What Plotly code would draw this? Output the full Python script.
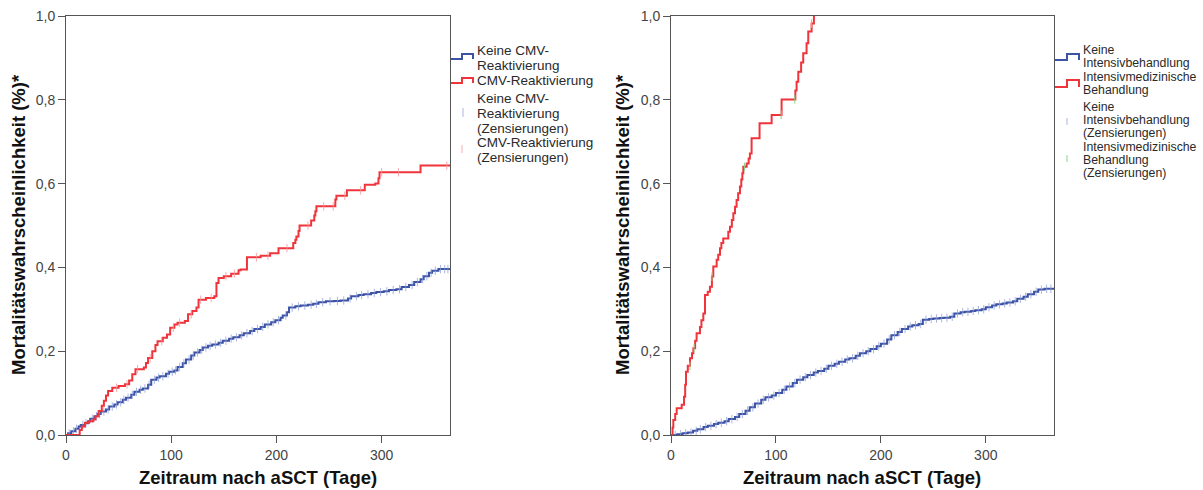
import numpy as np
import plotly.graph_objects as go
from plotly.subplots import make_subplots

# ---------------- Left panel: CMV reactivation ----------------
cmv_no_t = [0, 2, 5, 9, 12, 14, 18, 21, 23, 27, 30, 33, 38, 41, 46, 49, 54, 57, 62, 65,
            70, 73, 78, 81, 86, 89, 95, 98, 103, 106, 111, 114, 119, 122, 127, 130, 135, 139, 145, 149,
            155, 159, 165, 169, 175, 179, 185, 189, 195, 199, 204, 206, 210, 212, 218, 223, 230, 235, 240, 247,
            255, 261, 268, 271, 278, 283, 290, 295, 302, 307, 314, 319, 326, 331, 337, 340, 345, 348, 354, 365]
cmv_no_v = [0, .004, .009, .015, .02, .024, .028, .033, .039, .045, .05, .056, .061, .068, .073, .078, .084, .089, .096, .103,
            .108, .111, .12, .132, .137, .14, .146, .151, .154, .162, .171, .18, .19, .197, .203, .209, .213, .216, .22, .225,
            .23, .233, .238, .243, .248, .253, .258, .264, .269, .274, .28, .285, .293, .304, .307, .309, .311, .313, .317, .319,
            .32, .321, .326, .331, .334, .336, .339, .341, .343, .346, .348, .353, .358, .365, .372, .379, .387, .392, .396, .396]
cmv_yes_t = [0, 13, 15, 18, 22, 26, 28, 31, 34, 36, 38, 40, 44, 50, 56, 60, 63, 66, 74, 76,
             78, 82, 85, 87, 92, 96, 99, 103, 106, 113, 116, 120, 124, 126, 133, 141, 143, 145, 150, 157,
             164, 166, 172, 185, 194, 202, 216, 218, 219, 221, 222, 233, 236, 237, 238, 256, 257, 267, 284, 294,
             297, 298, 337, 365]
cmv_yes_v = [0, .012, .02, .029, .033, .037, .045, .057, .07, .082, .094, .105, .113, .117, .121, .13, .145, .157, .161, .172,
             .184, .2, .215, .224, .232, .24, .256, .264, .268, .272, .288, .296, .304, .323, .327, .331, .363, .375, .379, .385,
             .393, .395, .424, .428, .434, .446, .458, .466, .474, .487, .5, .512, .524, .534, .546, .562, .571, .584, .597, .6,
             .613, .627, .643, .643]
cmv_no_cens = [3, 7, 10, 16, 19, 25, 29, 32, 36, 40, 44, 48, 52, 55, 59, 63, 67, 71, 75, 79, 84, 88, 92, 97, 101,
               104, 108, 112, 117, 121, 125, 129, 133, 137, 142, 147, 152, 157, 162, 167, 172, 177, 182, 187, 192,
               197, 202, 209, 215, 221, 227, 233, 238, 244, 251, 258, 264, 270, 276, 281, 287, 293, 299, 305, 311,
               317, 323, 329, 334, 339, 343, 347, 351, 356, 360, 363]
cmv_yes_cens = [48, 58, 68, 80, 91, 102, 108, 119, 128, 138, 152, 160, 181, 192, 210, 230, 245, 254, 265, 280,
                300, 316, 362]

# ---------------- Right panel: intensive care ----------------
icu_no_t = [0, 6, 11, 16, 21, 25, 31, 35, 41, 45, 51, 55, 61, 65, 71, 75, 80, 86, 90, 96,
            100, 106, 110, 116, 120, 126, 130, 136, 140, 146, 150, 156, 160, 166, 170, 176, 180, 186, 190, 196,
            200, 206, 210, 216, 220, 226, 230, 236, 240, 246, 250, 256, 260, 266, 270, 276, 280, 286, 290, 296,
            300, 306, 310, 316, 320, 326, 330, 336, 340, 346, 350, 356, 365]
icu_no_v = [0, .002, .004, .006, .01, .014, .019, .022, .026, .029, .033, .038, .043, .05, .058, .066, .075, .084, .09, .094,
            .1, .108, .116, .124, .132, .138, .143, .149, .153, .158, .165, .17, .175, .18, .183, .189, .195, .2, .205, .212,
            .218, .228, .238, .246, .253, .259, .262, .265, .275, .277, .278, .279, .28, .282, .29, .293, .294, .296, .298, .3,
            .305, .309, .312, .314, .316, .319, .325, .33, .336, .342, .347, .349, .35]
icu_yes_t = [0, 1.5, 2.2, 4, 5.4, 10.2, 12.4, 13.5, 14.3, 16, 18.1, 20, 21.3, 23, 24.4, 27.6, 29, 30.8, 32.4, 35,
             37.1, 39, 40.3, 43.5, 45, 46.7, 48, 49.8, 54.6, 56.2, 58, 59.4, 61, 62.5, 64, 65.7, 67, 68, 68.9, 72.1,
             74, 75.2, 76.8, 84.4, 95.9, 105.4, 118.5, 119.7, 121.3, 124, 126, 129.2, 130.8, 134, 136.2]
icu_yes_v = [0, .018, .036, .05, .064, .072, .091, .12, .151, .165, .183, .195, .207, .225, .243, .258, .274, .29, .334, .342,
             .354, .378, .402, .418, .43, .446, .458, .469, .485, .497, .513, .529, .545, .561, .577, .593, .61, .625, .64, .648,
             .66, .672, .708, .744, .764, .801, .822, .843, .867, .889, .911, .935, .963, .982, 1.0]
icu_no_cens = [4, 9, 14, 19, 24, 28, 33, 38, 43, 48, 53, 58, 63, 68, 73, 78, 83, 88, 93, 98, 103, 108, 113, 118,
               123, 128, 133, 138, 143, 148, 153, 158, 163, 168, 173, 178, 183, 188, 193, 198, 203, 208, 213, 218,
               223, 228, 233, 238, 243, 248, 253, 258, 263, 268, 273, 278, 283, 288, 293, 298, 303, 308, 313, 318,
               323, 328, 333, 338, 343, 348, 353, 358, 362]
icu_yes_cens = [18, 22, 39, 70, 105, 118, 134]

y_ticks = [0, 0.2, 0.4, 0.6, 0.8, 1.0]
x_ticks = [0, 100, 200, 300]

BLUE = "#3C52A5"
RED = "#EF343B"
BLUE_C = "rgba(140,158,218,0.75)"
RED_C = "rgba(245,150,155,0.8)"
GREEN_C = "#86D48A"
FONT = "Liberation Sans"
W, H = 1203, 490


def at(ts, vs, t):
    """Value of a step curve at time t."""
    i = np.searchsorted(np.asarray(ts), t, side="right") - 1
    return np.asarray(vs)[i]


fig = make_subplots(rows=1, cols=2)


def add_panel(col, curves):
    for ts, vs, color, cens, ccolor in curves:
        fig.add_trace(go.Scatter(x=ts, y=vs, mode="lines", line=dict(color=color, width=2, shape="hv"),
                                 showlegend=False, hoverinfo="skip"), row=1, col=col)
        fig.add_trace(go.Scatter(x=cens, y=[at(ts, vs, c) for c in cens], mode="markers",
                                 marker=dict(symbol="line-ns", size=6, line=dict(width=1, color=ccolor)),
                                 showlegend=False, hoverinfo="skip"), row=1, col=col)


add_panel(1, [(cmv_no_t, cmv_no_v, BLUE, cmv_no_cens, BLUE_C),
              (cmv_yes_t, cmv_yes_v, RED, cmv_yes_cens, RED_C)])
add_panel(2, [(icu_no_t, icu_no_v, BLUE, icu_no_cens, BLUE_C),
              (icu_yes_t, icu_yes_v, RED, icu_yes_cens, GREEN_C)])

axis_common = dict(showline=True, linecolor="#555555", linewidth=1, mirror=True, ticks="outside",
                   ticklen=7, tickcolor="#555555", showgrid=False, zeroline=False, automargin=False,
                   tickfont=dict(family="Liberation Sans Narrow, " + FONT, size=14, color="#444444"))
fig.update_xaxes(range=[0, 365], tickvals=x_ticks, **axis_common)
fig.update_yaxes(range=[0, 1], tickvals=y_ticks, tickformat=".1f", **axis_common)
fig.update_layout(
    xaxis=dict(domain=[66 / W, 450 / W]),
    xaxis2=dict(domain=[671 / W, 1054 / W]),
    yaxis=dict(domain=[1 - 435 / H, 1 - 16 / H]),
    yaxis2=dict(domain=[1 - 435 / H, 1 - 16 / H]),
)

ann = []
shapes = []


def px(x):
    return x / W


def py(y):
    return 1 - y / H


# axis titles
for cx, title_x in [(258, 19), (862, 623)]:
    ann.append(dict(x=px(cx), y=py(477), xref="paper", yref="paper", text="<b>Zeitraum nach aSCT (Tage)</b>",
                    showarrow=False, xanchor="center", yanchor="middle",
                    font=dict(family=FONT, size=18.5, color="#111111")))
    ann.append(dict(x=px(title_x), y=py(225), xref="paper", yref="paper",
                    text="<b>Mortalitätswahrscheinlichkeit (%)*</b>", textangle=-90,
                    showarrow=False, xanchor="center", yanchor="middle",
                    font=dict(family=FONT, size=18.5, color="#111111")))

# legend texts
left_lines = [(50, "Keine CMV-"), (65, "Reaktivierung"), (81, "CMV-Reaktivierung"),
              (99, "Keine CMV-"), (113, "Reaktivierung"), (128, "(Zensierungen)"),
              (143, "CMV-Reaktivierung"), (157, "(Zensierungen)")]
right_lines = [(50, "Keine"), (63, "Intensivbehandlung"), (77, "Intensivmedizinische"), (90, "Behandlung"),
               (107, "Keine"), (120, "Intensivbehandlung"), (133, "(Zensierungen)"),
               (147, "Intensivmedizinische"), (160, "Behandlung"), (173, "(Zensierungen)")]
for y, t in left_lines:
    ann.append(dict(x=px(475), y=py(y), xref="paper", yref="paper", text=t, showarrow=False,
                    xanchor="left", yanchor="middle", font=dict(family=FONT, size=13.5, color="#2a2a2a")))
for y, t in right_lines:
    ann.append(dict(x=px(1081), y=py(y), xref="paper", yref="paper", text=t, showarrow=False,
                    xanchor="left", yanchor="middle", font=dict(family=FONT, size=12.3, color="#2a2a2a")))


def step_icon(x0, x1, x2, ylow, yhigh, color):
    path = (f"M {px(x0)},{py(ylow)} L {px(x1)},{py(ylow)} L {px(x1)},{py(yhigh)} "
            f"L {px(x2)},{py(yhigh)} L {px(x2)},{py(ylow)}")
    shapes.append(dict(type="path", xref="paper", yref="paper", path=path,
                       line=dict(color=color, width=2)))


def tick_icon(x, y0, y1, color):
    shapes.append(dict(type="line", xref="paper", yref="paper", x0=px(x), x1=px(x), y0=py(y0), y1=py(y1),
                       line=dict(color=color, width=1)))


step_icon(451, 462, 473, 59, 54, BLUE)
step_icon(451, 462, 473, 83, 78, RED)
tick_icon(463, 108, 117, BLUE_C)
tick_icon(462, 145, 153, RED_C)
step_icon(1055, 1067, 1079, 60, 54, BLUE)
step_icon(1055, 1067, 1079, 87, 80, RED)
tick_icon(1067, 118, 125, BLUE_C)
tick_icon(1067, 155, 162, GREEN_C)

fig.update_layout(
    width=W, height=H, margin=dict(l=0, r=0, t=0, b=0),
    paper_bgcolor="white", plot_bgcolor="white",
    separators=",.", annotations=ann, shapes=shapes, showlegend=False,
    font=dict(family=FONT),
)

fig.write_html("out.html")
